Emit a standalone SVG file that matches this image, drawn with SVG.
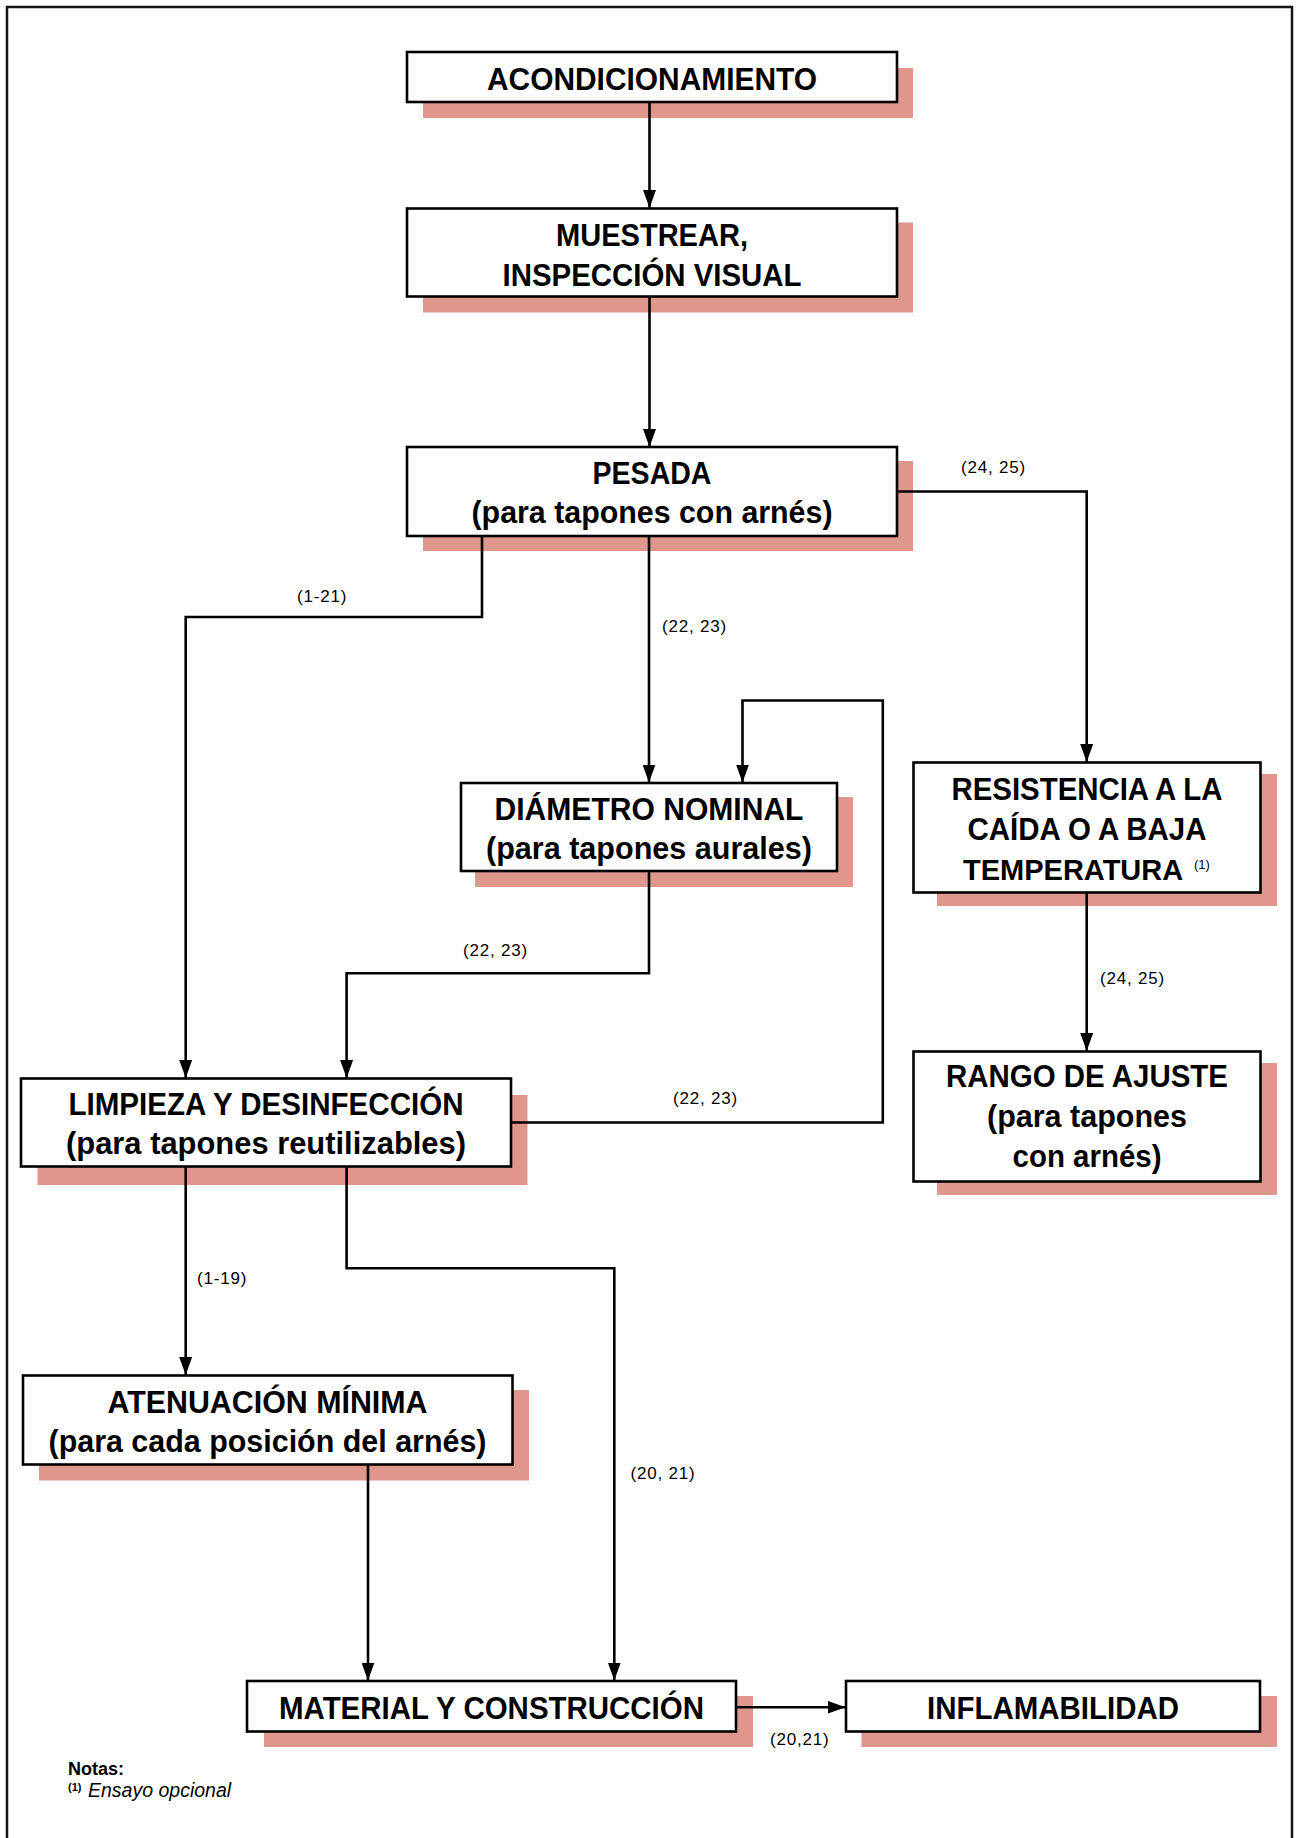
<svg xmlns="http://www.w3.org/2000/svg" width="1300" height="1838" viewBox="0 0 1300 1838">
<defs>
<marker id="ah" markerUnits="userSpaceOnUse" markerWidth="18" markerHeight="13" refX="18" refY="6.5" orient="auto"><path d="M0,0 L18,6.5 L0,13 z" fill="#000"/></marker>
<style>
.shadow{fill:#DF968B}
.box{fill:#fff;stroke:#000;stroke-width:2.6}
.t{font-family:"Liberation Sans",Arial,sans-serif;font-weight:bold;font-size:31px;text-anchor:middle;fill:#000}
.sup{font-family:"Liberation Sans",Arial,sans-serif;font-size:13px;fill:#000}
.lbl{font-family:"Liberation Sans",Arial,sans-serif;font-size:17px;letter-spacing:0.8px;fill:#000}
.conn{fill:none;stroke:#000;stroke-width:2.6}
.frame{fill:none;stroke:#151515;stroke-width:2.5}
</style>
</defs>
<rect width="1300" height="1838" fill="#fff"/>
<path class="frame" d="M7,1850 V7 H1292 V1850"/>

<g id="n-acondicionamiento">
<rect class="shadow" x="423" y="68" width="490" height="50"/>
<rect class="box" x="407" y="52" width="490" height="50"/>
<text class="t" x="652" y="90" textLength="330" lengthAdjust="spacingAndGlyphs">ACONDICIONAMIENTO</text>
</g>

<g id="n-muestrear">
<rect class="shadow" x="423" y="222.5" width="490" height="90"/>
<rect class="box" x="407" y="208.5" width="490" height="88"/>
<text class="t" x="652" y="246" textLength="192" lengthAdjust="spacingAndGlyphs">MUESTREAR,</text>
<text class="t" x="652" y="285.5" textLength="299" lengthAdjust="spacingAndGlyphs">INSPECCIÓN VISUAL</text>
</g>

<g id="n-pesada">
<rect class="shadow" x="423" y="461" width="490" height="90"/>
<rect class="box" x="407" y="447" width="490" height="89"/>
<text class="t" x="652" y="484" textLength="119" lengthAdjust="spacingAndGlyphs">PESADA</text>
<text class="t" x="652" y="523" textLength="361" lengthAdjust="spacingAndGlyphs">(para tapones con arnés)</text>
</g>

<g id="n-diametro">
<rect class="shadow" x="475" y="797" width="378" height="90"/>
<rect class="box" x="461" y="783" width="376" height="88"/>
<text class="t" x="649" y="820" textLength="309" lengthAdjust="spacingAndGlyphs">DIÁMETRO NOMINAL</text>
<text class="t" x="649" y="859" textLength="326" lengthAdjust="spacingAndGlyphs">(para tapones aurales)</text>
</g>

<g id="n-resistencia">
<rect class="shadow" x="937" y="774" width="340" height="132"/>
<rect class="box" x="913.5" y="762.5" width="347" height="130"/>
<text class="t" x="1087" y="800" textLength="271" lengthAdjust="spacingAndGlyphs">RESISTENCIA A LA</text>
<text class="t" x="1087" y="840" textLength="239" lengthAdjust="spacingAndGlyphs">CAÍDA O A BAJA</text>
<text class="t" x="963" y="880" style="text-anchor:start;font-size:29px">TEMPERATURA</text>
<text class="sup" x="1194" y="869">(1)</text>
</g>

<g id="n-rango">
<rect class="shadow" x="937" y="1063" width="340" height="132"/>
<rect class="box" x="913.5" y="1051.5" width="347" height="130"/>
<text class="t" x="1087" y="1087" textLength="282" lengthAdjust="spacingAndGlyphs">RANGO DE AJUSTE</text>
<text class="t" x="1087" y="1127" textLength="200" lengthAdjust="spacingAndGlyphs">(para tapones</text>
<text class="t" x="1087" y="1167" textLength="149" lengthAdjust="spacingAndGlyphs">con arnés)</text>
</g>

<g id="n-limpieza">
<rect class="shadow" x="37.5" y="1095" width="490" height="90"/>
<rect class="box" x="21" y="1078.5" width="490" height="88"/>
<text class="t" x="266" y="1115" textLength="395" lengthAdjust="spacingAndGlyphs">LIMPIEZA Y DESINFECCIÓN</text>
<text class="t" x="266" y="1154" textLength="400" lengthAdjust="spacingAndGlyphs">(para tapones reutilizables)</text>
</g>

<g id="n-atenuacion">
<rect class="shadow" x="39" y="1390" width="490" height="90.5"/>
<rect class="box" x="23" y="1375.5" width="489.5" height="89"/>
<text class="t" x="267.5" y="1412.5" textLength="320" lengthAdjust="spacingAndGlyphs">ATENUACIÓN MÍNIMA</text>
<text class="t" x="267.5" y="1451.5" textLength="438" lengthAdjust="spacingAndGlyphs">(para cada posición del arnés)</text>
</g>

<g id="n-material">
<rect class="shadow" x="264" y="1696" width="489" height="51"/>
<rect class="box" x="247" y="1681" width="489" height="50.5"/>
<text class="t" x="491.5" y="1719" textLength="425" lengthAdjust="spacingAndGlyphs">MATERIAL Y CONSTRUCCIÓN</text>
</g>

<g id="n-inflamabilidad">
<rect class="shadow" x="861.5" y="1696" width="415.5" height="51"/>
<rect class="box" x="846" y="1681" width="414" height="50.5"/>
<text class="t" x="1053" y="1719" textLength="252" lengthAdjust="spacingAndGlyphs">INFLAMABILIDAD</text>
</g>

<g id="connectors">
<path class="conn" d="M649.5,102 V208" marker-end="url(#ah)"/>
<path class="conn" d="M649.5,297 V447" marker-end="url(#ah)"/>
<path class="conn" d="M897,491.5 H1086.7 V762" marker-end="url(#ah)"/>
<path class="conn" d="M482,536 V617 H185.7 V1078" marker-end="url(#ah)"/>
<path class="conn" d="M649,536 V782.5" marker-end="url(#ah)"/>
<path class="conn" d="M649,871 V973.3 H346.6 V1078" marker-end="url(#ah)"/>
<path class="conn" d="M511,1122.5 H882.8 V700.5 H742.5 V782.5" marker-end="url(#ah)"/>
<path class="conn" d="M1086.7,892.5 V1051" marker-end="url(#ah)"/>
<path class="conn" d="M185.7,1166.5 V1375" marker-end="url(#ah)"/>
<path class="conn" d="M346.6,1166.5 V1268.3 H614.3 V1680.5" marker-end="url(#ah)"/>
<path class="conn" d="M368,1464.5 V1680.5" marker-end="url(#ah)"/>
<path class="conn" d="M736,1707.3 H845.5" marker-end="url(#ah)"/>
<text class="lbl" x="961" y="472.5">(24, 25)</text>
<text class="lbl" x="297" y="601.5">(1-21)</text>
<text class="lbl" x="662" y="632">(22, 23)</text>
<text class="lbl" x="463" y="956">(22, 23)</text>
<text class="lbl" x="673" y="1104">(22, 23)</text>
<text class="lbl" x="1100" y="984">(24, 25)</text>
<text class="lbl" x="197" y="1284">(1-19)</text>
<text class="lbl" x="630.5" y="1479">(20, 21)</text>
<text class="lbl" x="770" y="1745">(20,21)</text>
</g>

<g id="notes">
<text x="68" y="1775" style="font-family:'Liberation Sans',Arial,sans-serif;font-weight:bold;font-size:18px">Notas:</text>
<text x="68" y="1791" style="font-family:'Liberation Sans',Arial,sans-serif;font-weight:bold;font-size:11px">(1)</text>
<text x="88" y="1797" style="font-family:'Liberation Sans',Arial,sans-serif;font-style:italic;font-size:19.5px">Ensayo opcional</text>
</g>
</svg>
